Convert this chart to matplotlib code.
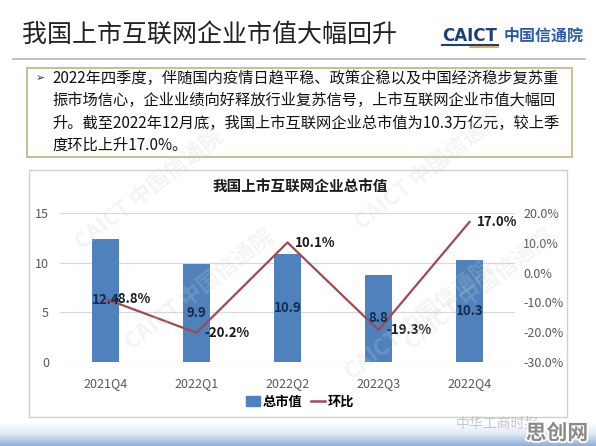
import numpy as np
import matplotlib
matplotlib.use("Agg")
import matplotlib.pyplot as plt
from matplotlib.patches import Rectangle
from matplotlib.lines import Line2D
import matplotlib.patheffects as pe

plt.rcParams['font.family'] = ['Noto Sans CJK SC', 'DejaVu Sans']

# 数据
quarters = ['2021Q4', '2022Q1', '2022Q2', '2022Q3', '2022Q4']
market_value = [12.4, 9.9, 10.9, 8.8, 10.3]   # 总市值（万亿元）
qoq = [-8.8, -20.2, 10.1, -19.3, 17.0]        # 环比（%）

title = '我国上市互联网企业市值大幅回升'
chart_title = '我国上市互联网企业总市值'
summary = ['2022年四季度，伴随国内疫情日趋平稳、政策企稳以及中国经济稳步复苏重',
           '振市场信心，企业业绩向好释放行业复苏信号，上市互联网企业市值大幅回',
           '升。截至2022年12月底，我国上市互联网企业总市值为10.3万亿元，较上季',
           '度环比上升17.0%。']

W, H = 596, 446
bar_color = '#4f81bd'
line_color = '#a0494f'

fig = plt.figure(figsize=(W / 100, H / 100), dpi=100)


def fx(x):
    return x / W


def fy(y):
    return 1 - y / H


# 页面标题和标识
fig.text(fx(22), fy(35), title, fontsize=18, color='#222222', va='center', ha='left')
fig.add_artist(Line2D([fx(13), fx(585)], [fy(59), fy(59)], color='#b5b5b5', lw=1.2))
fig.text(fx(442), fy(36), 'CAICT', fontsize=12, fontweight='bold', color='#1c3f7a',
         family=['DejaVu Sans'], va='center', ha='left')
fig.add_artist(Line2D([fx(442), fx(498)], [fy(45), fy(45)], color='#1c3f7a', lw=1.5))
fig.add_artist(Line2D([fx(470), fx(498)], [fy(46.5), fy(46.5)], color='#e39a3b', lw=1.2))
fig.text(fx(504), fy(36), '中国信通院', fontsize=11.5, fontweight='bold', color='#2c5ca8',
         va='center', ha='left')

# 文字框
fig.add_artist(Rectangle((fx(27), fy(157)), fx(572) - fx(27), fy(68) - fy(157),
                         transform=fig.transFigure, fill=False, ec='#c9bf9a', lw=1.5))
fig.text(fx(36), fy(78), '➢', fontsize=8, color='#333333', va='center', ha='left',
         family=['DejaVu Sans'])
for i, line in enumerate(summary):
    fig.text(fx(52), fy(78 + 22.5 * i), line, fontsize=11, color='#111111',
             va='center', ha='left')

# 图表框
fig.add_artist(Rectangle((fx(29), fy(417)), fx(567) - fx(29), fy(170) - fy(417),
                         transform=fig.transFigure, fill=False, ec='#d0d0d0', lw=1.0))
fig.text(fx(300), fy(187), chart_title, fontsize=10.5, fontweight='bold', color='#1a1a1a',
         va='center', ha='center')

# 水印
for (x, y) in [(150, 190), (200, 290), (430, 170), (480, 290), (420, 320)]:
    fig.text(fx(x), fy(y), 'CAICT 中国信通院', fontsize=16, fontweight='bold',
             color='#d0d0d0', alpha=0.22, rotation=38, ha='center', va='center')

# 主图
ax = fig.add_axes([fx(60), fy(362), fx(515) - fx(60), fy(213) - fy(362)])
x = np.arange(len(quarters))
bars = ax.bar(x, market_value, width=0.3, color=bar_color, zorder=2)
ax.set_xlim(-0.5, len(quarters) - 0.5)
ax.set_ylim(0, 15)
ax.set_yticks([0, 5, 10, 15])
ax.yaxis.grid(True, color='#d9d9d9', lw=0.9, zorder=0)
ax.set_axisbelow(True)
for s in ax.spines.values():
    s.set_visible(False)
ax.set_xticks(x)
ax.set_xticklabels(quarters)
ax.tick_params(axis='both', length=0, labelsize=9, labelcolor='#595959')
ax.tick_params(axis='x', pad=11)
ax.tick_params(axis='y', pad=8)
ax.patch.set_alpha(0)

ax2 = ax.twinx()
ax2.plot(x, qoq, color=line_color, lw=1.6, zorder=3)
ax2.set_ylim(-30, 20)
ax2.set_yticks([-30, -20, -10, 0, 10, 20])
ax2.set_yticklabels([f'{v:.1f}%' for v in [-30, -20, -10, 0, 10, 20]])
ax2.tick_params(axis='y', length=0, labelsize=9, labelcolor='#595959', pad=6)
for s in ax2.spines.values():
    s.set_visible(False)

# 数据标签
for xi, v in zip(x, market_value):
    ax2.text(xi, v / 2, f'{v:.1f}', transform=ax.transData, ha='center', va='center',
             fontsize=9.5, fontweight='bold', color='#172b4d', zorder=5)
for xi, v in zip(x, qoq):
    ax2.annotate(f'{v:.1f}%', (xi, v), xytext=(5.5, 0), textcoords='offset points',
                 ha='left', va='center', fontsize=9.5, fontweight='bold',
                 color='#1a1a1a', zorder=5)

# 图例
handles = [Rectangle((0, 0), 1, 1, color=bar_color),
           Line2D([0], [0], color=line_color, lw=1.8)]
fig.legend(handles, ['总市值', '环比'], loc='center', bbox_to_anchor=(fx(300), fy(402)),
           ncol=2, frameon=False, handlelength=1.1, handleheight=0.8,
           handletextpad=0.2, columnspacing=0.6, prop={'weight': 'bold', 'size': 9.5})

# 底部渐变条
band = fig.add_axes([0, 0, 1, 24 / H])
grad = np.linspace(0, 1, 50).reshape(-1, 1)
band.imshow(grad, aspect='auto', cmap=matplotlib.colors.LinearSegmentedColormap.from_list(
    'b', ['#8eb0d9', '#dfe9f5', '#ffffff']), origin='lower', extent=[0, 1, 0, 1])
band.axis('off')
fig.text(fx(497), fy(424), '中华工商时报', fontsize=10, color='#bbbbbb', alpha=0.8,
         va='center', ha='center')
fig.text(fx(557), fy(433), '思创网', fontsize=15, fontweight='bold', color='#8a8a8a',
         va='center', ha='center',
         path_effects=[pe.withStroke(linewidth=2.5, foreground='white')])

fig.savefig('out.png', dpi=100)
